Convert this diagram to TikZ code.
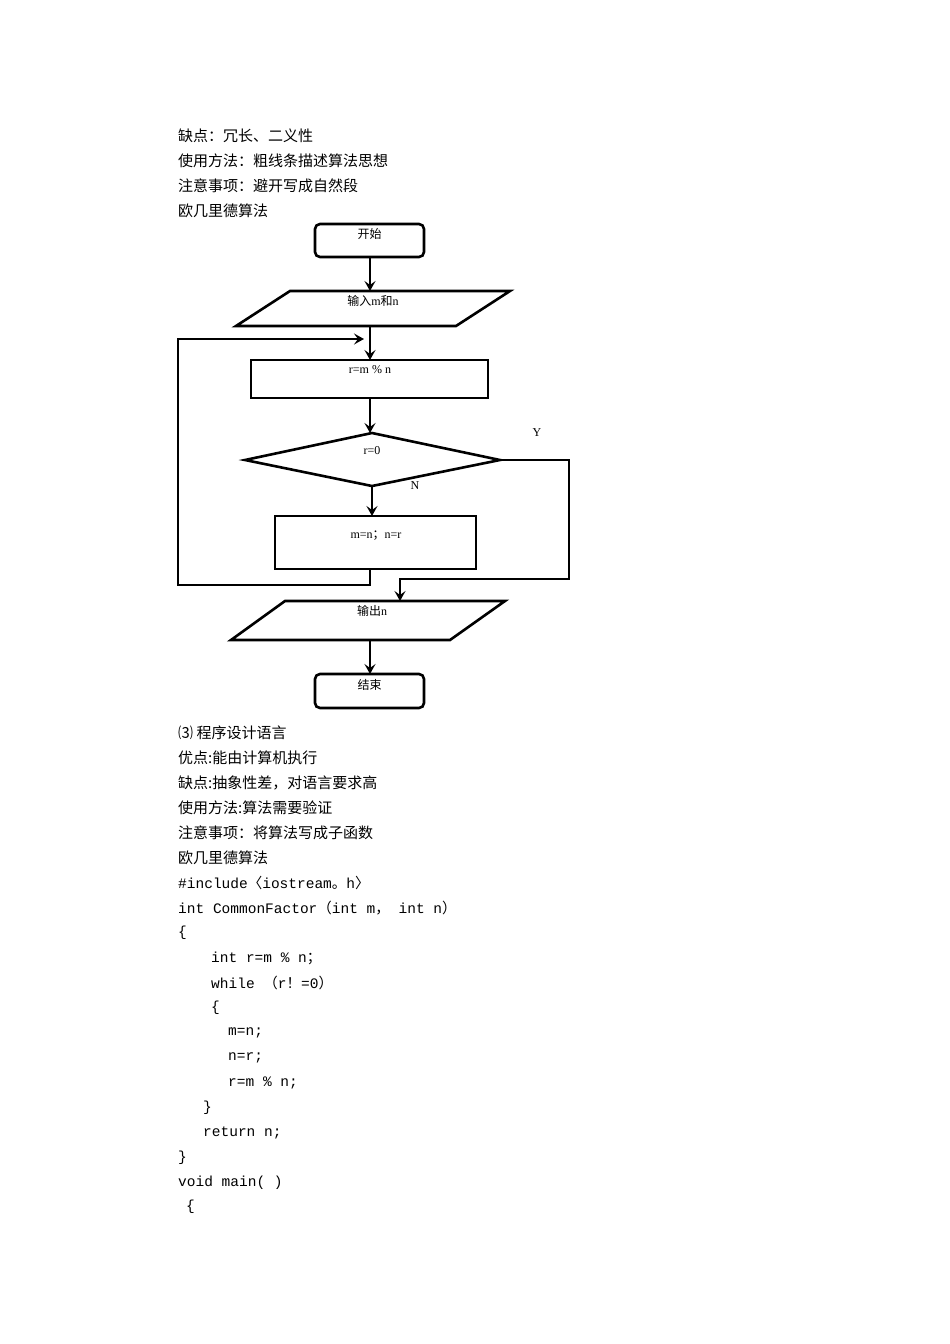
\documentclass[tikz,border=0pt]{standalone}
\usepackage{fontspec}
\setmainfont{Liberation Serif}
\setmonofont{Liberation Mono}
\newfontfamily\cjk{Noto Sans CJK SC}
\usetikzlibrary{arrows.meta,shapes.geometric}
\begin{document}
\begin{tikzpicture}[x=1pt,y=-1pt,
  txt/.style={anchor=west,inner sep=0pt,font=\fontsize{15}{15}\selectfont\cjk},
  code/.style={anchor=west,inner sep=0pt,font=\fontsize{14.5}{15}\selectfont\ttfamily},
  lbl/.style={inner sep=0pt,font=\fontsize{12}{12}\selectfont},
  box/.style={line width=2.6pt},
  arr/.style={line width=2.6pt,-{Stealth[length=10pt,width=11pt,inset=4pt]}}]
\useasboundingbox (0,0) rectangle (950,1344);
% top text
\node[txt] (t1) at (178,136) {缺点：冗长、二义性};
\node[txt] (t2) at (178,161) {使用方法：粗线条描述算法思想};
\node[txt] (t3) at (178,186) {注意事项：避开写成自然段};
\node[txt] (t4) at (178,211) {欧几里德算法};
% flowchart shapes
\draw[box,rounded corners=5pt] (315,224) rectangle (424,257);
\node[lbl] (start) at (369.5,234) {\cjk 开始};
\coordinate (startb) at (370,257);
\draw[box] (290,291) -- (510,291) -- (456,326) -- (236,326) -- cycle;
\node[lbl] (in) at (373,301) {{\cjk 输入}m{\cjk 和}n};
\coordinate (int) at (370,291);
\coordinate (inb) at (370,326);
\draw[box] (251,360) rectangle (488,398);
\node[lbl] (r) at (370,370) {r=m \% n};
\coordinate (rt) at (370,360);
\coordinate (rb) at (370,398);
\draw[box] (245,460) -- (372,433) -- (500,460) -- (372,486) -- cycle;
\node[lbl] (d) at (372,451) {r=0};
\coordinate (dt) at (370,433);
\coordinate (db) at (372,486);
\coordinate (dr) at (500,460);
\draw[box] (275,516) rectangle (476,569);
\node[lbl] (mn) at (376,536) {m=n{\cjk ；}n=r};
\coordinate (mt) at (372,516);
\coordinate (mb) at (370,569);
\draw[box] (285,601) -- (505,601) -- (450,640) -- (231,640) -- cycle;
\node[lbl] (out) at (372,611) {{\cjk 输出}n};
\coordinate (ot) at (400,601);
\coordinate (ob) at (370,640);
\draw[box,rounded corners=5pt] (315,674) rectangle (424,708);
\node[lbl] (end) at (369.5,685) {\cjk 结束};
\coordinate (et) at (370,674);
\node[lbl] (N) at (415,486) {N};
\node[lbl] (Y) at (537,433) {Y};
% connectors
\draw[arr] (startb) -- (int);
\draw[arr] (inb) -- (rt);
\draw[arr] (rb) -- (dt);
\draw[arr] (db) -- (mt);
\draw[arr] (mb) -- (370,585) -- (178,585) -- (178,339) -- (364,339);
\draw[arr] (dr) -- (569,460) -- (569,579) -- (400,579) -- (ot);
\draw[arr] (ob) -- (et);
% lower text
\node[txt] (u1) at (178,733) {⑶ 程序设计语言};
\node[txt] (u2) at (178,758) {优点:能由计算机执行};
\node[txt] (u3) at (178,783) {缺点:抽象性差，对语言要求高};
\node[txt] (u4) at (178,808) {使用方法:算法需要验证};
\node[txt] (u5) at (178,833) {注意事项：将算法写成子函数};
\node[txt] (u6) at (178,858) {欧几里德算法};
\node[code] (c1) at (178,883) {\#include{\cjk 〈}iostream{\cjk 。}h{\cjk 〉}};
\node[code] (c2) at (178,908) {int CommonFactor{\cjk （}int m{\cjk ，} int n{\cjk ）}};
\node[code] (c3) at (178,933) {\{};
\node[code] (c4) at (211,958) {int r=m \% n{\cjk ；}};
\node[code] (c5) at (211,983) {while {\cjk （}r{\cjk ！}=0{\cjk ）}};
\node[code] (c6) at (211,1008) {\{};
\node[code] (c7) at (228,1033) {m=n;};
\node[code] (c8) at (228,1058) {n=r;};
\node[code] (c9) at (228,1083) {r=m \% n;};
\node[code] (c10) at (203,1108) {\}};
\node[code] (c11) at (203,1133) {return n;};
\node[code] (c12) at (178,1158) {\}};
\node[code] (c13) at (178,1183) {void main( )};
\node[code] (c14) at (186,1207) {\{};
\end{tikzpicture}
\end{document}
